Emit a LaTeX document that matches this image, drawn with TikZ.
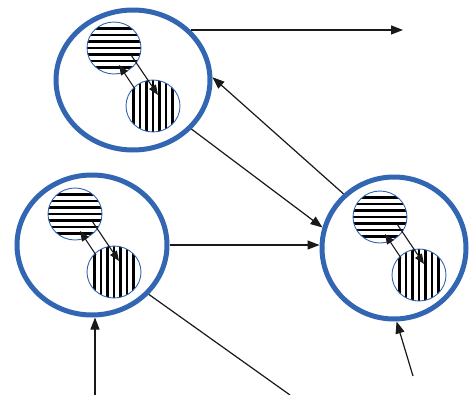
\documentclass[tikz,border=0pt]{standalone}
\usetikzlibrary{shapes.geometric,arrows.meta}
\definecolor{bl}{RGB}{50,102,178}
\tikzset{
  big/.style={ellipse, draw=bl, line width=5pt, inner sep=0pt, fill=white},
  small/.style={ellipse, draw=bl, line width=0.9pt, inner sep=0pt, fill=white,
    minimum width=54pt, minimum height=52pt},
  hst/.style={small, path picture={
    \foreach \o in {-19.5,-13,-6.5,0,6.5,13,19.5}
      \draw[black, line width=2.8pt] ([yshift=\o pt]path picture bounding box.west) -- ([yshift=\o pt]path picture bounding box.east);}},
  vst/.style={small, path picture={
    \foreach \o in {-19.5,-13,-6.5,0,6.5,13,19.5}
      \draw[black, line width=2.8pt] ([xshift=\o pt]path picture bounding box.north) -- ([xshift=\o pt]path picture bounding box.south);}},
  arr/.style={line width=1.2pt, draw=black!90, -{Triangle[length=12pt,width=9pt]}},
  iarr/.style={line width=1.1pt, draw=black!90, -{Triangle[length=10pt,width=8pt]}},
  ln/.style={line width=1.2pt, draw=black!90}
}
\begin{document}
\begin{tikzpicture}[x=1pt,y=-1pt]
\useasboundingbox (0,0) rectangle (469,394);
\fill[white] (0,0) rectangle (469,394);
% big circles
\node[big, minimum width=154pt, minimum height=140pt] (A) at (133,80) {};
\node[big, minimum width=150pt, minimum height=140pt] (B) at (92,245) {};
\node[big, minimum width=144pt, minimum height=142pt] (C) at (394,248) {};
% small circles
\node[hst] (A1) at (114,48) {};
\node[vst] (A2) at (153,106) {};
\node[hst] (B1) at (75,214) {};
\node[vst] (B2) at (114,272) {};
\node[hst] (C1) at (380,217) {};
\node[vst] (C2) at (419,275) {};
% inner arrows
\foreach \n in {A,B,C}{
  \draw[iarr] ([xshift=17pt,yshift=-7pt]\n1.center) -- ([xshift=5pt,yshift=11pt]\n2.center);
  \draw[iarr] ([xshift=-18pt,yshift=17pt]\n2.center) -- ([xshift=5pt,yshift=-17pt]\n1.center);
}
% free ends
\coordinate (e1) at (403,28);
\coordinate (e5) at (290,395);
\coordinate (e6) at (95,395);
\coordinate (e7) at (413,376);
% connectors
\draw[arr] (A.41) -- (A.41 -| e1);
\draw[arr] (C.133) -- (A.2);
\draw[arr] (A.-40) -- (C.164);
\draw[arr] (B.east) -- (B.east -| C.west);
\draw[ln] (B.-41) -- (e5);
\draw[arr] (e6) -- (e6 |- B.south);
\draw[arr] (e7) -- (C.-88);
\end{tikzpicture}
\end{document}
